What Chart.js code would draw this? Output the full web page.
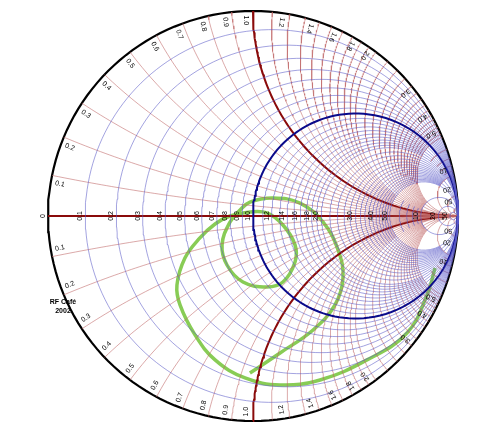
<!DOCTYPE html>
<html>
<head>
<meta charset="utf-8">
<script src="https://cdn.jsdelivr.net/npm/chart.js@4.4.1/dist/chart.umd.min.js"></script>
<style>
  html, body { margin: 0; padding: 0; background: #fff; }
  #wrap { width: 500px; height: 441px; }
</style>
</head>
<body>
<div id="wrap"><canvas id="smith"></canvas></div>
<script>
// grid values (normalized impedance)
const resistances = [0.1, 0.2, 0.3, 0.4, 0.5, 0.6, 0.7, 0.8, 0.9, 1.0,
  1.1, 1.2, 1.3, 1.4, 1.5, 1.6, 1.7, 1.8, 1.9, 2.0,
  2.2, 2.4, 2.6, 2.8, 3.0, 3.2, 3.4, 3.6, 3.8, 4.0, 4.2, 4.4, 4.6, 4.8, 5.0,
  6, 7, 8, 9, 10, 20, 50];
const reactances = resistances;
const axisLabels = ['0', '0.1', '0.2', '0.3', '0.4', '0.5', '0.6', '0.7', '0.8', '0.9', '1.0',
  '1.2', '1.4', '1.6', '1.8', '2.0', '3.0', '4.0', '5.0', '10', '20', '50'];
const rimLabels = axisLabels.slice(1);

// trace, reflection coefficient (re, im)
const traceRe = [0.888, 0.849, 0.751, 0.556, 0.327, 0.132, -0.039, -0.185, -0.283, -0.356, -0.371,
  -0.332, -0.259, -0.185, -0.112, -0.015, 0.068, 0.146, 0.205, 0.205, 0.146, 0.068, -0.049,
  -0.127, -0.151, -0.112, -0.063, -0.015, 0.098, 0.229, 0.341, 0.415, 0.439, 0.400, 0.293, 0.132, -0.015];
const traceIm = [-0.254, -0.385, -0.571, -0.702, -0.800, -0.824, -0.790, -0.702, -0.580, -0.434, -0.337,
  -0.205, -0.107, -0.039, 0.000, 0.020, 0.015, -0.044, -0.141, -0.224, -0.322, -0.346, -0.322,
  -0.239, -0.141, -0.029, 0.029, 0.068, 0.088, 0.063, -0.029, -0.166, -0.302, -0.434, -0.556, -0.668, -0.766];

function gamma(r, x) {
  const d = (r + 1) * (r + 1) + x * x;
  return { x: (r * r - 1 + x * x) / d, y: 2 * x / d };
}

// how far a grid line runs before it is cut off (keeps the right side readable)
function reach(v) {
  const labelled = axisLabels.map(parseFloat).includes(v);
  if (v <= 1 || labelled) return 1e6;
  if (v < 2) return 5;
  if (v < 5) return 10;
  return 2;
}

function rCurve(r) {
  const lim = Math.atan(reach(r));
  const pts = [];
  for (let i = 0; i <= 160; i++) {
    const phi = -lim + 2 * lim * i / 160;
    const x = Math.abs(Math.cos(phi)) < 1e-9 ? (phi > 0 ? 1e6 : -1e6) : Math.tan(phi);
    pts.push(gamma(r, x));
  }
  return pts;
}

function xCurve(x) {
  const lim = Math.atan(reach(Math.abs(x)));
  const pts = [];
  for (let i = 0; i <= 100; i++) {
    const phi = lim * i / 100;
    const r = Math.abs(Math.cos(phi)) < 1e-9 ? 1e6 : Math.tan(phi);
    pts.push(gamma(r, x));
  }
  return pts;
}

const line = (data, color, width) => ({
  data, borderColor: color, borderWidth: width, showLine: true, pointRadius: 0, tension: 0, fill: false,
});

const datasets = [];
resistances.forEach((r) => {
  const major = r === 1;
  datasets.push(line(rCurve(r), major ? '#0a0a8a' : 'rgba(90,90,200,0.7)', major ? 2 : 0.8));
});
reactances.forEach((x) => {
  const major = x === 1;
  [x, -x].forEach((v) => datasets.push(line(xCurve(v), major ? '#8a0a0a' : 'rgba(190,100,100,0.7)', major ? 2 : 0.8)));
});
datasets.push(line([{ x: -1, y: 0 }, { x: 1, y: 0 }], '#8a0a0a', 2));
datasets.push(line(rCurve(0), '#000', 2.2));
datasets.push({
  data: traceRe.map((v, i) => ({ x: v, y: traceIm[i] })),
  borderColor: '#88cc55', borderWidth: 3.5, showLine: true, pointRadius: 0, tension: 0.4, fill: false,
});

const labelPlugin = {
  id: 'labels',
  afterDatasetsDraw(chart) {
    const { ctx, scales } = chart;
    const px = (u) => scales.x.getPixelForValue(u);
    const py = (v) => scales.y.getPixelForValue(v);
    ctx.save();
    ctx.fillStyle = '#000';
    ctx.font = '7px "Liberation Sans", Arial, sans-serif';
    ctx.textAlign = 'center';
    ctx.textBaseline = 'middle';
    axisLabels.forEach((t) => {
      const g = gamma(parseFloat(t), 0);
      ctx.save();
      ctx.translate(px(g.x) - 5, py(0));
      ctx.rotate(-Math.PI / 2);
      ctx.fillText(t, 0, 0);
      ctx.restore();
    });
    rimLabels.forEach((t) => {
      const x = parseFloat(t);
      [x, -x].forEach((v) => {
        const g = gamma(0, v);
        const a = Math.atan2(g.y, g.x);
        const off = v > 0 ? 0.035 : -0.035;
        const b = a + off;
        ctx.save();
        ctx.translate(px(0.955 * Math.cos(b)), py(0.955 * Math.sin(b)));
        ctx.rotate(-a + Math.PI);
        ctx.fillText(t, 0, 0);
        ctx.restore();
      });
    });
    ctx.font = 'bold 7px "Liberation Sans", Arial, sans-serif';
    ctx.fillText('RF Café', 63, 302);
    ctx.fillText('2002', 63, 311);
    ctx.restore();
  },
};

new Chart(document.getElementById('smith'), {
  type: 'scatter',
  data: { datasets },
  options: {
    responsive: true,
    maintainAspectRatio: false,
    animation: false,
    events: [],
    layout: { padding: 0 },
    plugins: { legend: { display: false }, tooltip: { enabled: false } },
    scales: {
      x: { type: 'linear', display: false, min: -253 / 205, max: 247 / 205 },
      y: { type: 'linear', display: false, min: -225 / 205, max: 216 / 205 },
    },
  },
  plugins: [labelPlugin],
});
</script>
</body>
</html>
